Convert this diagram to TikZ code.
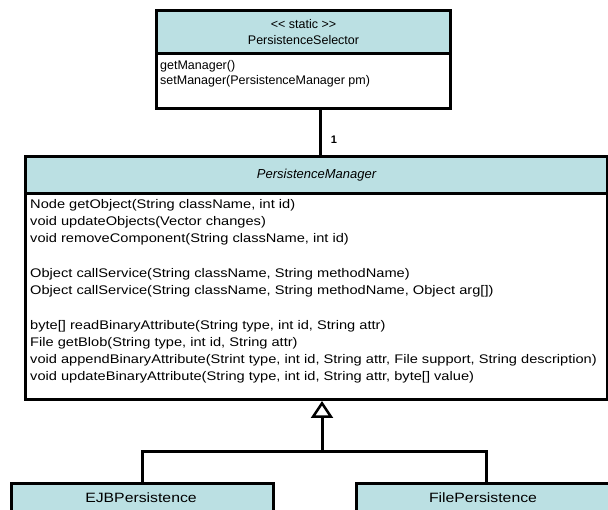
\documentclass[tikz,border=0pt]{standalone}
\usepackage{fontspec}
\setmainfont{Liberation Sans}
\newfontfamily\widesans[FakeStretch=1.17]{Liberation Sans}
\usetikzlibrary{arrows.meta}
\definecolor{umlhead}{RGB}{187,224,227}
\begin{document}
\begin{tikzpicture}[x=1pt,y=-1pt,
  frame/.style={draw=black,line width=3pt},
  headbox/.style={frame,fill=umlhead,anchor=north west,inner sep=0pt},
  bodybox/.style={frame,fill=white,anchor=north west,inner sep=0pt},
  members/.style={anchor=north west,align=left,inner sep=0pt,
    font=\fontsize{12.5}{15}\selectfont},
  widemembers/.style={members,font=\widesans\fontsize{12.5}{17}\selectfont},
  title/.style={font=\fontsize{12.5}{16}\selectfont,align=center,inner sep=0pt},
  subtitle/.style={title,font=\widesans\fontsize{13.5}{16}\selectfont},
  link/.style={line width=3pt,line cap=rect},
  inherit/.style={line width=3pt,-{Triangle[open,length=17pt,width=22pt,line width=2.5pt]}}]
\useasboundingbox (0,0) rectangle (608,510);

% PersistenceSelector
\node[bodybox,minimum width=294pt,minimum height=55pt] (selB) at (155,52) {};
\node[headbox,minimum width=294pt,minimum height=43pt] (selH) at (155,9) {};
\node[title] (selT) at (selH.center) {<{}< static >{}>\\PersistenceSelector};
\node[members] (selM) at (160,60) {getManager()\\setManager(PersistenceManager pm)};

% PersistenceManager
\node[bodybox,minimum width=582pt,minimum height=206pt] (pmB) at (24,192) {};
\node[headbox,minimum width=582pt,minimum height=37pt] (pmH) at (24,155) {};
\node[title,font=\fontsize{13}{16}\selectfont\itshape] (pmT) at (pmH.center) {PersistenceManager};
\node[widemembers] (pmM) at (30,199) {%
Node getObject(String className, int id)\\
void updateObjects(Vector changes)\\
void removeComponent(String className, int id)\\[18pt]
Object callService(String className, String methodName)\\
Object callService(String className, String methodName, Object arg[])\\[18pt]
byte[] readBinaryAttribute(String type, int id, String attr)\\
File getBlob(String type, int id, String attr)\\
void appendBinaryAttribute(Strint type, int id, String attr, File support, String description)\\
void updateBinaryAttribute(String type, int id, String attr, byte[] value)};

% Subclasses
\node[headbox,minimum width=262pt,minimum height=40pt] (ejb) at (10,482) {};
\node[subtitle] (ejbT) at (141,498) {EJBPersistence};
\node[headbox,minimum width=260pt,minimum height=40pt] (file) at (355,482) {};
\node[subtitle] (fileT) at (483,498) {FilePersistence};

% Association with multiplicity
\draw[link] (selB.south -| 320,0) -- (pmH.north -| 320,0)
  node[pos=0.65,right=6pt,font=\fontsize{11}{13}\selectfont\bfseries] (mult) {1};

% Generalisation tree
\coordinate (join) at (322,452);
\coordinate (jl) at (142,452);
\coordinate (jr) at (486,452);
\draw[link] (jl) -- (jr);
\draw[link] (jl) -- (jl |- ejb.north);
\draw[link] (jr) -- (jr |- file.north);
\draw[inherit] (join) -- (join |- pmB.south);
\end{tikzpicture}
\end{document}
